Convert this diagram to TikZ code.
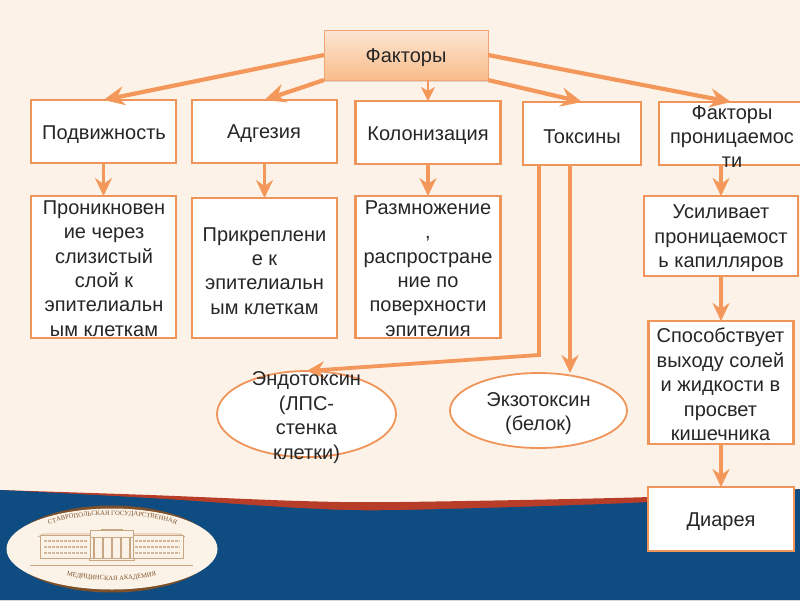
\documentclass[tikz,border=0pt]{standalone}
\usepackage{fontspec}
\setmainfont{Liberation Sans}
\newfontfamily\logofont{Liberation Serif}
\usetikzlibrary{arrows.meta,shapes.geometric,shadows,decorations.text}
\definecolor{bgc}{HTML}{FDF2E8}
\definecolor{org}{HTML}{F4975A}
\definecolor{orgb}{HTML}{F0955A}
\definecolor{bandb}{HTML}{0E4C82}
\definecolor{bandr}{HTML}{B83D28}
\definecolor{tan}{HTML}{C9A684}
\definecolor{logob}{HTML}{7E5029}
\definecolor{logoc}{HTML}{FCF3E8}
\definecolor{ink}{HTML}{262626}
\definecolor{gtop}{HTML}{FCE6D3}
\definecolor{gbot}{HTML}{F9BC8A}
\tikzset{
  bx/.style={draw=orgb,line width=2.5pt,fill=white,inner sep=0pt,outer sep=0pt},
  ell/.style={bx,ellipse,line width=1.8pt},
  topbox/.style={draw=orgb!85,line width=0.8pt,inner sep=0pt,outer sep=0pt,top color=gtop,bottom color=gbot,drop shadow={opacity=0.25,shadow xshift=1pt,shadow yshift=-1.5pt}},
  tx/.style={font=\fontsize{20}{24.4}\selectfont,text=ink,align=center,inner sep=0pt},
  arr/.style={draw=org,line width=4.2pt,-{Stealth[length=21pt,width=19pt,inset=7pt]}},
  arrthin/.style={draw=org,line width=3.8pt,-{Stealth[length=18pt,width=17pt,inset=6pt]}},
  lg/.style={draw=tan,line width=0.7pt},
}
\begin{document}
\begin{tikzpicture}[x=1pt,y=-1pt]
\useasboundingbox (0,0) rectangle (800,600);
\fill[bgc] (0,0) rectangle (800,600);
% band
\fill[bandr] plot[smooth] coordinates {(0,490) (150,495) (300,501) (400,502) (650,497) (800,489)} -- (800,600) -- (0,600) -- cycle;
\fill[bandb] plot[smooth] coordinates {(0,490) (150,498) (300,508) (400,510) (650,502) (800,489)} -- (800,600) -- (0,600) -- cycle;
% logo
\fill[logob] (112,549) ellipse (102 and 43.5);
\fill[logoc] (112,549) ellipse (105.5 and 40.5);
\draw[lg,line width=1pt] (30,565) -- (193,565);
\draw[lg] (40,535) rectangle (90,558);
\draw[lg] (133,535) rectangle (183,558);
\draw[lg] (38,537) -- (43,534) -- (90,534);
\draw[lg] (133,534) -- (180,534) -- (185,537);
\foreach \yy in {541,547,553}{
  \draw[tan!80,line width=1.4pt,dash pattern=on 2.5pt off 1.5pt] (44,\yy) -- (88,\yy);
  \draw[tan!80,line width=1.4pt,dash pattern=on 2.5pt off 1.5pt] (135,\yy) -- (180,\yy);
}
\draw[lg] (90,530) rectangle (133,537);
\draw[lg] (101,530) -- (101,529) -- (122,529) -- (122,530);
\foreach \xx in {94,103,112,121,130}{ \draw[tan,line width=1.6pt] (\xx,537) -- (\xx,558); }
\draw[lg] (89,558) rectangle (134,560);
\path[decorate,decoration={text along path,text align=center,
  text={|\logofont\fontsize{6.6}{7}\selectfont\color{logob}|СТАВРОПОЛЬСКАЯ ГОСУДАРСТВЕННАЯ}}]
  (42,527) .. controls (80,511) and (145,511) .. (183,527);
\path[decorate,decoration={text along path,text align=center,
  text={|\logofont\fontsize{6.6}{7}\selectfont\color{logob}|МЕДИЦИНСКАЯ АКАДЕМИЯ}}]
  (57,572) .. controls (85,583) and (140,583) .. (166,572);
% boxes
\node[topbox,minimum width=164pt,minimum height=50pt] (f) at (406,55) {};
\node[bx,minimum width=145pt,minimum height=63pt] (pod) at (103.5,131.5) {};
\node[bx,minimum width=145pt,minimum height=63pt] (adg) at (264.5,131.5) {};
\node[bx,minimum width=145pt,minimum height=63pt] (kol) at (428,132.5) {};
\node[bx,minimum width=118pt,minimum height=63pt] (tox) at (582,133.5) {};
\node[bx,minimum width=144pt,minimum height=63pt] (perm) at (731,133.5) {};
\node[bx,minimum width=145pt,minimum height=142pt] (pod2) at (103.5,267) {};
\node[bx,minimum width=145pt,minimum height=140pt] (adg2) at (264.5,268) {};
\node[bx,minimum width=145pt,minimum height=142pt] (kol2) at (428,267) {};
\node[bx,minimum width=154pt,minimum height=80pt] (usil) at (721,236) {};
\node[bx,minimum width=145pt,minimum height=123pt] (spos) at (721,382.5) {};
\node[bx,minimum width=146pt,minimum height=64pt] (diar) at (721,519) {};
\node[ell,minimum width=179pt,minimum height=86pt] (endo) at (306.5,414) {};
\node[ell,minimum width=177pt,minimum height=75pt] (exo) at (538.5,410.5) {};
\coordinate (t1) at (539,165);
\coordinate (t2) at (570,165);
\coordinate (tbend) at (539,355);
% connectors
\draw[arr] (f.west) -- (pod.north);
\draw[arr] (f.south west) -- (adg.north);
\draw[arrthin,line width=2.8pt,-{Stealth[length=14pt,width=14pt,inset=4pt]}] (kol.north |- f.south) -- (kol.north);
\draw[arr] (f.south east) -- (tox.north);
\draw[arr] (f.east) -- (perm.north);
\draw[arrthin] (pod.south) -- (pod2.north);
\draw[arrthin] (adg.south) -- (adg2.north);
\draw[arrthin] (kol.south) -- (kol2.north);
\draw[arrthin] (perm.south -| usil.north) -- (usil.north);
\draw[arrthin] (usil.south) -- (spos.north);
\draw[arrthin] (spos.south) -- (diar.north);
\draw[arrthin,line join=miter] (t1) -- (tbend) -- (endo.north);
\draw[arrthin] (t2) -- (t2 |- exo.north);
% texts
\node[tx] (tf) at (406,58) {Факторы};
\node[tx] (tpod) at (104,135) {Подвижность};
\node[tx] (tadg) at (264,134) {Адгезия};
\node[tx] (tkol) at (428,136) {Колонизация};
\node[tx] (ttox) at (582,137) {Токсины};
\node[tx] (tperm) at (732,136.5) {Факторы\\проницаемос\\ти};
\node[tx] (tpod2) at (104,268.5) {Проникновен\\ие через\\слизистый\\слой к\\эпителиальн\\ым клеткам};
\node[tx] (tadg2) at (264.5,271) {Прикреплени\\е к\\эпителиальн\\ым клеткам};
\node[tx] (tkol2) at (428,268.5) {Размножение\\,\\распростране\\ние по\\поверхности\\эпителия};
\node[tx] (tusil) at (721,238.5) {Усиливает\\проницаемост\\ь капилляров};
\node[tx] (tspos) at (720.5,384.5) {Способствует\\выходу солей\\и жидкости в\\просвет\\кишечника};
\node[tx] (tdiar) at (721,522) {Диарея};
\node[tx] (tendo) at (306.5,417.5) {Эндотоксин\\(ЛПС-\\стенка\\клетки)};
\node[tx] (texo) at (538.5,413.5) {Экзотоксин\\(белок)};
\end{tikzpicture}
\end{document}
